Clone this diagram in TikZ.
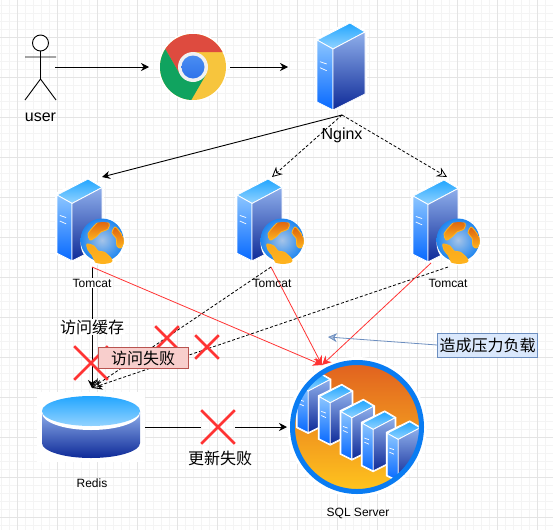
\documentclass[tikz,border=0pt]{standalone}
\usepackage{fontspec}
\setmainfont{Liberation Sans}
\newfontfamily\cjk{Noto Sans CJK SC}
\usetikzlibrary{arrows.meta,shapes.misc}
\definecolor{gridmajor}{HTML}{E4E4E4}
\definecolor{gridminor}{HTML}{F4F4F4}
\definecolor{failred}{HTML}{FF3333}
\definecolor{noteblue}{HTML}{6C8EBF}
\definecolor{notefill}{HTML}{DAE8FC}
\definecolor{boxred}{HTML}{B85450}
\definecolor{boxfill}{HTML}{F8CECC}
\definecolor{srvtopa}{HTML}{22A6FF}
\definecolor{srvtopb}{HTML}{93D3FF}
\definecolor{srvlefta}{HTML}{8CC6FF}
\definecolor{srvleftb}{HTML}{0668FF}
\definecolor{srvrighta}{HTML}{8FAFEB}
\definecolor{srvrightb}{HTML}{0E2A98}
\definecolor{landa}{HTML}{DD620E}
\definecolor{landb}{HTML}{FFB41E}
\definecolor{seaa}{HTML}{A6C4E8}
\definecolor{seab}{HTML}{1F86F0}
\definecolor{ringblue}{HTML}{0A7CF2}
\definecolor{discorangea}{HTML}{E1621F}
\definecolor{discorangeb}{HTML}{FFC41E}
\definecolor{chromered}{HTML}{DE4B3F}
\definecolor{chromegreen}{HTML}{10A35F}
\definecolor{chromeyellow}{HTML}{F7C53D}
\definecolor{chromebluea}{HTML}{4A8DF2}
\definecolor{chromeblueb}{HTML}{2E73EA}
\definecolor{chromering}{HTML}{F1F1F1}
\begin{document}
\begin{tikzpicture}[x=1pt,y=-1pt]
\tikzset{
  imgtext/.style={inner sep=1pt,font=\fontsize{12}{14}\selectfont},
  bigtext/.style={inner sep=1pt,font=\fontsize{16}{18}\selectfont},
  cjktext/.style={inner sep=1pt,font=\cjk\fontsize{16}{18}\selectfont},
  failcross/.style={cross out,draw=failred,line width=2.6pt,inner sep=0pt},
  solidarrow/.style={black,line width=.9pt,-{Stealth[length=8pt,width=8pt]}},
  dasharrow/.style={black,line width=.8pt,densely dashed,-{Stealth[open,length=10pt,width=10pt]}},
  redarrow/.style={failred,line width=.8pt,-{Stealth[length=9pt,width=9pt]}},
  pics/serverbox/.style={code={
    \fill[white] (-2,-2) -- (33,-19) -- (50,-9) -- (50,55) -- (16,72) -- (-2,63) -- cycle;
    \shade[top color=srvtopa,bottom color=srvtopb,draw=white,line width=.8pt] (0,0) -- (33,-17) -- (48,-8) -- (16,9) -- cycle;
    \shade[top color=srvlefta,bottom color=srvleftb,draw=white,line width=.8pt] (0,0) -- (16,9) -- (16,70) -- (0,62) -- cycle;
    \shade[top color=srvrighta,bottom color=srvrightb,draw=white,line width=.8pt] (16,9) -- (48,-8) -- (48,54) -- (16,70) -- cycle;
    \draw[white,line width=.7pt] (3,21.7) -- (9.7,24) (3,27.7) -- (9.7,30.7);
  }},
  pics/globebox/.style={code={
    \fill[white] (0,0) circle (22.5);
    \shade[inner color=seaa,outer color=seab] (-1,-3) circle (21.5);
    \begin{scope}
      \clip (0,0) circle (21);
      \shade[top color=landa,bottom color=landb,draw=landb,line width=.8pt] plot[smooth cycle] coordinates {(-15,-9) (-9,-17) (-3,-22) (6,-20) (5,-14) (-2,-11) (-6,-7) (-10,-4) (-13,-3)};
      \shade[top color=landb!85!landa,bottom color=landb,draw=landb,line width=.8pt] plot[smooth cycle] coordinates {(-16,1) (-9,3) (-5,8) (1,9) (7,14) (9,18) (3,22) (-6,21) (-11,12) (-15,7)};
      \shade[top color=landa,bottom color=landb,draw=landb,line width=.8pt] plot[smooth cycle] coordinates {(12,-16) (17,-11) (21,-3) (18,5) (14,3) (13,-5) (9,-10)};
    \end{scope}
  }}
}
\useasboundingbox (0,0) rectangle (553,530);
% grid
\foreach \gridx in {1,9,...,553} \draw[gridminor,line width=.7pt] (\gridx,0) -- (\gridx,530);
\foreach \gridy in {5,13,...,530} \draw[gridminor,line width=.7pt] (0,\gridy) -- (553,\gridy);
\foreach \gridx in {17,57,...,553} \draw[gridmajor,line width=.8pt] (\gridx,0) -- (\gridx,530);
\foreach \gridy in {37,77,...,530} \draw[gridmajor,line width=.8pt] (0,\gridy) -- (553,\gridy);

% user
\draw[black,line width=.9pt,fill=white] (40.5,43) circle (8);
\draw[black,line width=.9pt] (40.5,51) -- (40.5,79) (25,57) -- (56,57) (25,100) -- (40.5,79) -- (56,100);
\node[bigtext] at (40.5,117) (user_text) {user};

% chrome
\fill[white] (193,67) circle (34.5);
\begin{scope}
  \clip (193,67) circle (33);
  \fill[chromeyellow] (150,20) rectangle (240,110);
  \fill[chromered] (193,52) -- (253,52) -- (253,0) -- (150,0) -- (150,22.5) -- (180,74.5) -- cycle;
  \fill[chromegreen] (180,74.5) -- (150,22.5) -- (140,22.5) -- (140,130) -- (176,126.5) -- (206,74.5) -- cycle;
\end{scope}
\fill[chromering] (193,67) circle (15);
\shade[top color=chromebluea,bottom color=chromeblueb] (193,67) circle (11.5);

% servers
\pic at (317,40) {serverbox};
\pic[scale=.94] at (57,195) {serverbox};
\pic[scale=.94] at (237,195) {serverbox};
\pic[scale=.94] at (413,196) {serverbox};
\pic at (103,243) {globebox};
\pic at (283,243) {globebox};
\pic at (459,243) {globebox};

% redis
\fill[white] (37,392) rectangle (145,462);
\shade[top color=srvrighta,bottom color=srvrightb] (42,411) -- (42,443) arc[start angle=180,end angle=360,x radius=49,y radius=-15] -- (140,411) -- cycle;
\fill[white] (91,413) ellipse (49 and 17);
\shade[top color=srvtopa,bottom color=srvtopb] (91,411) ellipse (49 and 15);
\node[imgtext] at (92,483) (redis_text) {Redis};

% sql server
\fill[white] (357,427) circle (70);
\shade[top color=discorangea,bottom color=discorangeb] (357,427) circle (63);
\begin{scope}
  \clip (357,427) circle (63);
  \pic[scale=.68] at (297.3,385) {serverbox};
  \pic[scale=.68] at (319.3,396.7) {serverbox};
  \pic[scale=.68] at (341,411.7) {serverbox};
  \pic[scale=.68] at (362.3,423.3) {serverbox};
  \pic[scale=.68] at (387.3,433.3) {serverbox};
\end{scope}
\draw[ringblue,line width=5pt] (357,427) circle (64.5);
\node[imgtext] at (358,513) (sql_text) {SQL Server};

% connector ends
\coordinate (user_out) at (55,67);
\coordinate (chrome_in) at (149,67);
\coordinate (chrome_out) at (230,67);
\coordinate (nginx_in) at (288,67);
\coordinate (nginx_out) at (342,115);
\coordinate (t_1_in) at (102,177);
\coordinate (t_2_in) at (272,177);
\coordinate (t_3_in) at (447,177);
\coordinate (t_1_out) at (92,267);
\coordinate (t_2_out) at (271,267);
\coordinate (t_3_out) at (448,267);
\coordinate (t_3_red) at (431,263);
\coordinate (redis_in) at (92,388);
\coordinate (redis_out) at (145,427);
\coordinate (sql_in) at (287,427);
\coordinate (sql_top) at (322,365);
\coordinate (sql_note) at (328,337);

% requests
\draw[solidarrow] (user_out) -- (chrome_in);
\draw[solidarrow] (chrome_out) -- (nginx_in);
\draw[solidarrow] (nginx_out) -- (t_1_in);
\draw[dasharrow] (nginx_out) -- (t_2_in);
\draw[dasharrow] (nginx_out) -- (t_3_in);

% to the cache
\draw[solidarrow] (t_1_out) -- (redis_in);
\draw[dasharrow] (t_2_out) -- (redis_in);
\draw[dasharrow] (t_3_out) -- (redis_in);

% to the database
\draw[redarrow] (t_1_out) -- (sql_top);
\draw[redarrow] (t_2_out) -- (sql_top);
\draw[redarrow] (t_3_red) -- (sql_top);

\node[imgtext,fill=white] at (92,283) (t_1_text) {Tomcat};
\node[imgtext] at (272,283) (t_2_text) {Tomcat};
\node[imgtext] at (448,283) (t_3_text) {Tomcat};
\node[bigtext] at (342,135) (nginx_text) {Nginx};
\node[cjktext,fill=white] at (92,327) (cache_text) {访问缓存};

% crosses
\node[failcross,minimum size=31pt] at (91,363) (x_1) {};
\node[failcross,minimum size=21pt] at (167,338) (x_2) {};
\node[failcross,minimum size=21pt] at (207,347) (x_3) {};
\node[failcross,minimum size=31pt] at (218,427) (x_4) {};

\node[cjktext,draw=boxred,fill=boxfill,line width=.8pt,minimum width=90pt,minimum height=21pt] at (143,358) (fail_box) {访问失败};
\draw[black,line width=.9pt] (redis_out) -- (x_4.west);
\draw[solidarrow] (x_4.east) -- (sql_in);
\node[cjktext] at (220,458) (update_text) {更新失败};

% note
\node[cjktext,draw=noteblue,fill=notefill,line width=.8pt,minimum width=100pt,minimum height=24pt] at (487.5,345) (note_box) {造成压力负载};
\draw[noteblue,line width=.8pt,-{Stealth[length=9pt,width=9pt,fill=noteblue!60]}] (note_box.west) -- (sql_note);
\end{tikzpicture}
\end{document}
